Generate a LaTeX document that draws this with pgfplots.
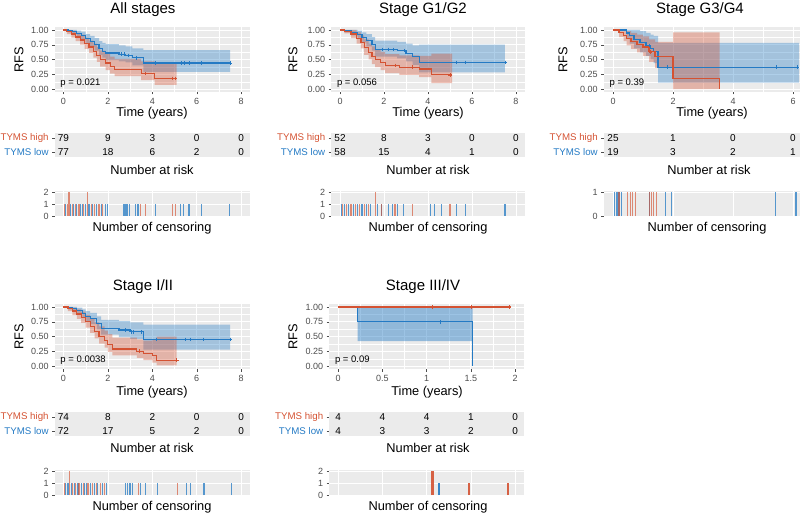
\documentclass[border=0pt]{standalone}
\usepackage{fontspec}
\setmainfont{Liberation Sans}
\usepackage{pgfplots}
\usepackage{pgfplotstable}
\pgfplotsset{compat=1.18}
\usepgfplotslibrary{fillbetween}

\definecolor{cred}{RGB}{212,82,50}
\definecolor{cblue}{RGB}{36,122,196}
\definecolor{panel}{RGB}{235,235,235}
\definecolor{tickc}{RGB}{77,77,77}

% t = time (years), s = RFS, lo/hi = confidence band
\pgfplotstableread{
t s lo hi
0 1.00 1.00 1.00
0.2 0.99 0.96 1.00
0.4 0.97 0.93 1.00
0.6 0.94 0.89 0.99
0.8 0.90 0.84 0.97
1.0 0.85 0.77 0.93
1.2 0.80 0.71 0.90
1.4 0.75 0.65 0.86
1.6 0.69 0.58 0.81
1.75 0.64 0.53 0.78
1.9 0.61 0.49 0.76
2.5 0.59 0.47 0.74
2.8 0.57 0.45 0.72
3.1 0.53 0.40 0.69
3.6 0.44 0.29 0.66
7.5 0.44 0.29 0.66
}\kmAb
\pgfplotstableread{
t s lo hi
0 1.00 1.00 1.00
0.15 0.97 0.93 1.00
0.35 0.93 0.87 0.99
0.55 0.88 0.81 0.95
0.75 0.83 0.75 0.92
0.95 0.77 0.68 0.87
1.15 0.71 0.61 0.82
1.35 0.64 0.53 0.77
1.5 0.57 0.46 0.71
1.65 0.50 0.38 0.65
1.9 0.44 0.32 0.60
2.1 0.38 0.26 0.55
2.3 0.33 0.22 0.51
3.5 0.26 0.15 0.47
4.1 0.18 0.07 0.45
5.1 0.18 0.07 0.45
}\kmAr
\pgfplotstableread{
t s lo hi
0 1.00 1.00 1.00
0.2 0.99 0.96 1.00
0.5 0.96 0.91 1.00
0.8 0.92 0.85 0.99
1.0 0.87 0.79 0.96
1.2 0.82 0.72 0.93
1.45 0.76 0.65 0.88
1.6 0.67 0.55 0.82
2.6 0.65 0.52 0.80
3.0 0.60 0.47 0.77
3.3 0.55 0.41 0.74
3.6 0.45 0.28 0.75
7.5 0.45 0.28 0.75
}\kmBb
\pgfplotstableread{
t s lo hi
0 1.00 1.00 1.00
0.2 0.98 0.94 1.00
0.5 0.93 0.86 1.00
0.75 0.86 0.77 0.96
0.95 0.79 0.69 0.91
1.1 0.70 0.58 0.84
1.3 0.62 0.50 0.77
1.45 0.55 0.42 0.72
1.6 0.50 0.37 0.67
1.85 0.45 0.32 0.63
2.05 0.40 0.27 0.59
2.7 0.37 0.24 0.57
3.6 0.34 0.20 0.56
4.15 0.24 0.10 0.60
5.1 0.24 0.10 0.60
}\kmBr
\pgfplotstableread{
t s lo hi
0 1.00 1.00 1.00
0.45 0.95 0.86 1.00
0.55 0.90 0.77 1.00
0.7 0.84 0.69 1.00
0.9 0.79 0.62 0.98
1.1 0.74 0.56 0.95
1.25 0.69 0.50 0.92
1.35 0.64 0.44 0.90
1.5 0.37 0.11 0.78
6.2 0.37 0.11 0.78
}\kmCb
\pgfplotstableread{
t s lo hi
0 1.00 1.00 1.00
0.2 0.96 0.88 1.00
0.35 0.91 0.81 1.00
0.45 0.86 0.74 0.98
0.6 0.81 0.68 0.95
0.8 0.76 0.62 0.92
1.0 0.71 0.56 0.89
1.2 0.63 0.46 0.84
1.4 0.55 0.36 0.80
2.0 0.18 0.00 0.96
3.55 0.00 0.00 0.96
}\kmCr
\pgfplotstableread{
t s lo hi
0 1.00 1.00 1.00
0.2 0.99 0.96 1.00
0.4 0.97 0.93 1.00
0.6 0.94 0.89 0.99
0.85 0.89 0.82 0.96
1.0 0.84 0.76 0.93
1.2 0.80 0.71 0.90
1.5 0.72 0.62 0.84
1.7 0.64 0.53 0.78
2.5 0.61 0.49 0.76
3.0 0.58 0.46 0.74
3.6 0.45 0.28 0.70
7.5 0.45 0.28 0.70
}\kmDb
\pgfplotstableread{
t s lo hi
0 1.00 1.00 1.00
0.2 0.97 0.93 1.00
0.4 0.93 0.86 0.99
0.6 0.88 0.80 0.96
0.8 0.82 0.73 0.92
1.0 0.75 0.65 0.87
1.2 0.67 0.56 0.81
1.4 0.59 0.47 0.74
1.6 0.50 0.38 0.67
1.85 0.43 0.31 0.60
2.0 0.36 0.24 0.54
2.2 0.29 0.18 0.48
3.3 0.25 0.14 0.45
3.6 0.21 0.10 0.43
4.0 0.18 0.06 0.44
4.2 0.10 0.01 0.50
5.1 0.10 0.01 0.50
}\kmDr
\pgfplotstableread{
t s lo hi
0 1.00 1.00 1.00
0.22 0.75 0.42 0.98
1.52 0.00 0.42 0.98
}\kmEb

\newcommand\kmband[4]{%
  \addplot[name path=#3hi, draw=none, const plot, forget plot] table[x=t,y=hi]{#1};
  \addplot[name path=#3lo, draw=none, const plot, forget plot] table[x=t,y=lo]{#1};
  \addplot[fill=#2, fill opacity=#4, draw=none, forget plot] fill between[of=#3hi and #3lo];
}
\newcommand\kmline[2]{%
  \addplot[#2, const plot, line width=1.2pt, mark=none] table[x=t,y=s]{#1};
}

\tikzset{
  pval/.style={anchor=west, font=\fontsize{9.5}{10}\selectfont},
  num/.style={font=\fontsize{10}{11}\selectfont},
  ttl/.style={font=\fontsize{15}{17}\selectfont},
  lab/.style={font=\fontsize{12.8}{14}\selectfont},
}

\pgfplotsset{
  base/.style={scale only axis, anchor=north west,
    axis lines*=left, axis line style={draw=none},
    axis background/.style={fill=panel}, enlargelimits=false,
    tick align=outside, major tick length=2.5pt, minor tick length=0pt,
    tick style={tickc, line width=0.4pt},
    ticklabel style={font=\fontsize{9}{10}\selectfont, text=tickc},
    /pgf/number format/assume math mode=true,
    clip=true},
  km/.style={base, height=65pt, ymin=-0.05, ymax=1.05,
    ytick={0,0.25,0.5,0.75,1}, yticklabels={0.00,0.25,0.50,0.75,1.00},
    minor tick num=1, grid=both,
    major grid style={white, line width=0.7pt},
    minor grid style={white, line width=0.3pt}},
  risk/.style={base, height=24pt, ymin=0.64, ymax=2.36,
    ytick={1,2}, yticklabels={\textcolor{cblue}{TYMS low},\textcolor{cred}{TYMS high}},
    yticklabel style={font=\fontsize{9.7}{10}\selectfont},
    xticklabels={}, xtick style={draw=none}},
  cens/.style={base, height=26.4pt, ymin=-0.1, ymax=2.1, ytick={0,1,2},
    xticklabels={}, xtick style={draw=none},
    grid=major, major grid style={white, line width=0.5pt}},
  cenr/.style={ycomb, cred, line width=1.2pt, opacity=0.65, mark=none},
  cenb/.style={ycomb, cblue, line width=1.2pt, opacity=0.75, mark=none},
  mkr/.style={only marks, mark=+, mark size=1.8pt, cred, line width=0.6pt},
  mkb/.style={only marks, mark=+, mark size=1.8pt, cblue, line width=0.6pt},
}

\begin{document}
\begin{tikzpicture}

% ---------------- All stages ----------------
\begin{axis}[km, at={(54.6pt,-27pt)}, width=195.4pt, xmin=-0.4, xmax=8.4, xtick={0,2,4,6,8}]
\kmband{\kmAb}{cblue}{ab}{0.36}
\kmband{\kmAr}{cred}{ar}{0.36}
\kmline{\kmAb}{cblue}
\kmline{\kmAr}{cred}
\addplot[mkb] coordinates {(2.6,0.59) (2.75,0.59) (2.9,0.57) (3.3,0.53) (4.15,0.44) (5.3,0.44) (5.45,0.44) (5.65,0.44) (6.2,0.44) (7.5,0.44)};
\addplot[mkr] coordinates {(3.7,0.26) (4.9,0.18) (5.05,0.18)};
\node[pval] at (rel axis cs:0.012,0.14) {p = 0.021};
\end{axis}
\begin{axis}[risk, at={(54.6pt,-133pt)}, width=195.4pt, xmin=-0.4, xmax=8.4, xtick={0,2,4,6,8}]
\node[num] at (axis cs:0,2) {79}; \node[num] at (axis cs:2,2) {9}; \node[num] at (axis cs:4,2) {3};
\node[num] at (axis cs:6,2) {0}; \node[num] at (axis cs:8,2) {0};
\node[num] at (axis cs:0,1) {77}; \node[num] at (axis cs:2,1) {18}; \node[num] at (axis cs:4,1) {6};
\node[num] at (axis cs:6,1) {2}; \node[num] at (axis cs:8,1) {0};
\end{axis}
\begin{axis}[cens, at={(54.6pt,-190.8pt)}, width=195.4pt, xmin=-0.4, xmax=8.4, xtick={0,2,4,6,8}]
\addplot[cenb] coordinates {(0.1,1) (0.3,1) (0.45,1) (0.6,1) (0.75,1) (0.85,1) (1.0,1) (1.15,1) (1.3,1) (1.5,1) (1.7,1) (1.9,1) (2.0,1) (2.73,1) (2.82,1) (2.9,1) (2.97,1) (3.25,1) (3.36,1) (4.15,1) (5.27,1) (5.42,1) (5.65,1) (6.2,1) (7.49,1)};
\addplot[cenr] coordinates {(0.05,1) (0.18,1) (0.25,2) (0.4,1) (0.55,1) (0.7,1) (0.9,1) (1.08,2) (1.25,1) (1.4,1) (1.6,1) (1.75,1) (3.48,1) (3.7,1) (4.9,1) (5.05,1)};
\end{axis}

% ---------------- Stage G1/G2 ----------------
\begin{axis}[km, at={(331.2pt,-27pt)}, width=193.6pt, xmin=-0.4, xmax=8.4, xtick={0,2,4,6,8}]
\kmband{\kmBb}{cblue}{bb}{0.36}
\kmband{\kmBr}{cred}{br}{0.36}
\kmline{\kmBb}{cblue}
\kmline{\kmBr}{cred}
\addplot[mkb] coordinates {(1.9,0.67) (2.2,0.67) (2.4,0.67) (2.9,0.65) (5.3,0.45) (5.7,0.45) (7.5,0.45)};
\addplot[mkr] coordinates {(2.5,0.40) (3.3,0.37) (5.0,0.24)};
\node[pval] at (rel axis cs:0.012,0.14) {p = 0.056};
\end{axis}
\begin{axis}[risk, at={(331.2pt,-133pt)}, width=193.6pt, xmin=-0.4, xmax=8.4, xtick={0,2,4,6,8}]
\node[num] at (axis cs:0,2) {52}; \node[num] at (axis cs:2,2) {8}; \node[num] at (axis cs:4,2) {3};
\node[num] at (axis cs:6,2) {0}; \node[num] at (axis cs:8,2) {0};
\node[num] at (axis cs:0,1) {58}; \node[num] at (axis cs:2,1) {15}; \node[num] at (axis cs:4,1) {4};
\node[num] at (axis cs:6,1) {1}; \node[num] at (axis cs:8,1) {0};
\end{axis}
\begin{axis}[cens, at={(331.2pt,-190.8pt)}, width=193.6pt, xmin=-0.4, xmax=8.4, xtick={0,2,4,6,8}]
\addplot[cenb] coordinates {(0.05,1) (0.2,1) (0.4,1) (0.6,1) (0.8,1) (1.0,1) (1.2,1) (1.4,1) (1.7,1) (1.9,1) (2.2,1) (2.4,1) (2.6,1) (2.9,1) (4.1,1) (4.3,1) (4.6,1) (5.3,1) (5.7,1) (7.5,1)};
\addplot[cenr] coordinates {(0.1,1) (0.3,1) (0.5,1) (0.7,1) (0.9,1) (1.1,1) (1.3,1) (1.6,2) (1.9,1) (2.5,1) (3.3,1) (5.0,1)};
\end{axis}

% ---------------- Stage G3/G4 ----------------
\begin{axis}[km, at={(603.7pt,-27pt)}, width=196.2pt, xmin=-0.31, xmax=6.23, xtick={0,2,4,6}]
\kmband{\kmCb}{cblue}{cb}{0.36}
\kmband{\kmCr}{cred}{cr}{0.36}
\kmline{\kmCb}{cblue}
\kmline{\kmCr}{cred}
\addplot[mkb] coordinates {(1.22,0.74) (1.8,0.37) (5.45,0.37) (6.15,0.37)};
\addplot[mkr] coordinates {(1.25,0.63)};
\node[pval] at (rel axis cs:0.012,0.14) {p = 0.39};
\end{axis}
\begin{axis}[risk, at={(603.7pt,-133pt)}, width=196.2pt, xmin=-0.31, xmax=6.23, xtick={0,2,4,6}]
\node[num] at (axis cs:0,2) {25}; \node[num] at (axis cs:2,2) {1}; \node[num] at (axis cs:4,2) {0};
\node[num] at (axis cs:6,2) {0};
\node[num] at (axis cs:0,1) {19}; \node[num] at (axis cs:2,1) {3}; \node[num] at (axis cs:4,1) {2};
\node[num] at (axis cs:6,1) {1};
\end{axis}
\begin{axis}[cens, at={(603.7pt,-190.8pt)}, width=196.2pt, xmin=-0.31, xmax=6.23, xtick={0,2,4,6},
  ymin=-0.05, ymax=1.05, ytick={0,1}]
\addplot[cenb] coordinates {(0.05,1) (0.13,1) (0.2,1) (0.27,1) (1.22,1) (1.74,1) (1.94,1) (5.41,1) (6.1,1)};
\addplot[cenr] coordinates {(0.2,1) (0.49,1) (0.58,1) (0.66,1) (0.74,1) (1.22,1) (1.28,1) (1.36,1) (1.44,1)};
\end{axis}

% ---------------- Stage I/II ----------------
\begin{axis}[km, at={(54.6pt,-304pt)}, width=195.4pt, xmin=-0.4, xmax=8.4, xtick={0,2,4,6,8}]
\kmband{\kmDb}{cblue}{db}{0.36}
\kmband{\kmDr}{cred}{dr}{0.36}
\kmline{\kmDb}{cblue}
\kmline{\kmDr}{cred}
\addplot[mkb] coordinates {(2.8,0.61) (3.05,0.58) (3.15,0.58) (3.5,0.58) (4.2,0.45) (5.5,0.45) (5.7,0.45) (6.3,0.45) (7.5,0.45)};
\addplot[mkr] coordinates {(3.4,0.25) (5.1,0.10)};
\node[pval] at (rel axis cs:0.012,0.14) {p = 0.0038};
\end{axis}
\begin{axis}[risk, at={(54.6pt,-412pt)}, width=195.4pt, xmin=-0.4, xmax=8.4, xtick={0,2,4,6,8}]
\node[num] at (axis cs:0,2) {74}; \node[num] at (axis cs:2,2) {8}; \node[num] at (axis cs:4,2) {2};
\node[num] at (axis cs:6,2) {0}; \node[num] at (axis cs:8,2) {0};
\node[num] at (axis cs:0,1) {72}; \node[num] at (axis cs:2,1) {17}; \node[num] at (axis cs:4,1) {5};
\node[num] at (axis cs:6,1) {2}; \node[num] at (axis cs:8,1) {0};
\end{axis}
\begin{axis}[cens, at={(54.6pt,-469.8pt)}, width=195.4pt, xmin=-0.4, xmax=8.4, xtick={0,2,4,6,8}]
\addplot[cenb] coordinates {(0.1,1) (0.2,1) (0.35,1) (0.5,1) (0.65,1) (0.8,1) (0.95,1) (1.05,1) (1.2,1) (1.4,1) (1.55,1) (1.75,1) (1.95,1) (2.8,1) (2.88,1) (3.0,1) (3.1,1) (3.48,1) (3.7,1) (4.24,1) (5.53,1) (5.73,1) (6.33,1) (7.58,1)};
\addplot[cenr] coordinates {(0.05,1) (0.27,2) (0.4,1) (0.55,1) (0.7,1) (0.9,1) (1.1,1) (1.3,1) (1.5,1) (1.65,1) (1.85,1) (3.38,1) (5.12,1)};
\end{axis}

% ---------------- Stage III/IV ----------------
\begin{axis}[km, at={(329.2pt,-304pt)}, width=194.7pt, xmin=-0.1, xmax=2.1,
  xtick={0,0.5,1,1.5,2}, xticklabels={0,0.5,1,1.5,2}]
\kmband{\kmEb}{cblue}{eb}{0.45}
\kmline{\kmEb}{cblue}
\addplot[cred, const plot, line width=1.2pt, mark=none] coordinates {(0,1) (1.95,1)};
\addplot[mkb] coordinates {(1.15,0.75)};
\addplot[mkr] coordinates {(1.07,1) (1.5,1) (1.93,1)};
\node[pval] at (rel axis cs:0.012,0.14) {p = 0.09};
\end{axis}
\begin{axis}[risk, at={(329.2pt,-412pt)}, width=194.7pt, xmin=-0.1, xmax=2.1, xtick={0,0.5,1,1.5,2}]
\node[num] at (axis cs:0,2) {4}; \node[num] at (axis cs:0.5,2) {4}; \node[num] at (axis cs:1,2) {4};
\node[num] at (axis cs:1.5,2) {1}; \node[num] at (axis cs:2,2) {0};
\node[num] at (axis cs:0,1) {4}; \node[num] at (axis cs:0.5,1) {3}; \node[num] at (axis cs:1,1) {3};
\node[num] at (axis cs:1.5,1) {2}; \node[num] at (axis cs:2,1) {0};
\end{axis}
\begin{axis}[cens, at={(329.2pt,-469.8pt)}, width=194.7pt, xmin=-0.1, xmax=2.1, xtick={0,0.5,1,1.5,2}]
\addplot[cenr, line width=2.8pt, opacity=0.9] coordinates {(1.07,2) (1.48,1) (1.92,1)};
\addplot[cenb, line width=2.8pt, opacity=0.9] coordinates {(1.14,1)};
\end{axis}

% ---------------- titles and labels ----------------
\node[ttl] at (143pt,-10pt) {All stages};
\node[ttl] at (423pt,-10pt) {Stage G1/G2};
\node[ttl] at (700pt,-10pt) {Stage G3/G4};
\node[ttl] at (143pt,-287pt) {Stage I/II};
\node[ttl] at (423pt,-287pt) {Stage III/IV};

\node[lab, rotate=90] at (19pt,-59.5pt) {RFS};
\node[lab, rotate=90] at (293pt,-59.5pt) {RFS};
\node[lab, rotate=90] at (563pt,-59.5pt) {RFS};
\node[lab, rotate=90] at (19pt,-336.5pt) {RFS};
\node[lab, rotate=90] at (293pt,-336.5pt) {RFS};

\node[lab] at (152pt,-113pt) {Time (years)};
\node[lab] at (428pt,-113pt) {Time (years)};
\node[lab] at (712pt,-113pt) {Time (years)};
\node[lab] at (152pt,-392pt) {Time (years)};
\node[lab] at (427pt,-392pt) {Time (years)};

\node[lab] at (152pt,-170pt) {Number at risk};
\node[lab] at (428pt,-170pt) {Number at risk};
\node[lab] at (709pt,-170pt) {Number at risk};
\node[lab] at (152pt,-448pt) {Number at risk};
\node[lab] at (428pt,-448pt) {Number at risk};

\node[lab] at (152pt,-228pt) {Number of censoring};
\node[lab] at (428pt,-228pt) {Number of censoring};
\node[lab] at (707pt,-228pt) {Number of censoring};
\node[lab] at (152pt,-507pt) {Number of censoring};
\node[lab] at (428pt,-507pt) {Number of censoring};

\pgfresetboundingbox
\path[use as bounding box] (0,0) rectangle (800pt,-516pt);
\end{tikzpicture}
\end{document}
